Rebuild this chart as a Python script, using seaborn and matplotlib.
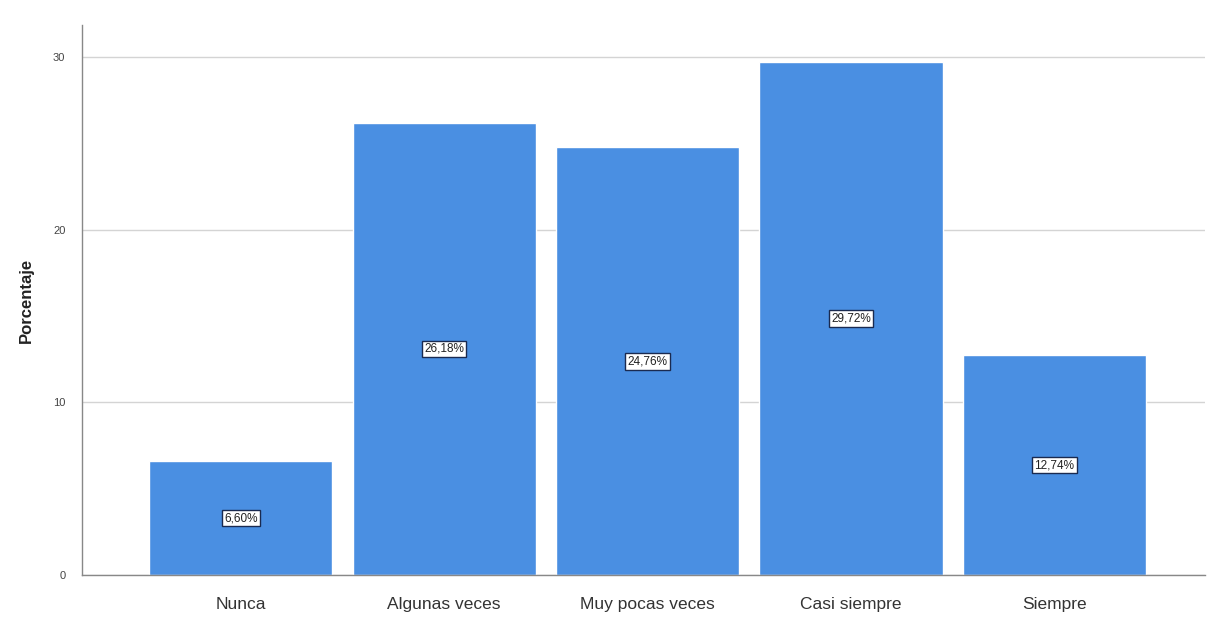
import matplotlib
matplotlib.use("Agg")
import matplotlib.pyplot as plt
import seaborn as sns
import pandas as pd

# Data
categories = ["Nunca", "Algunas veces", "Muy pocas veces", "Casi siempre", "Siempre"]
percentages = [6.60, 26.18, 24.76, 29.72, 12.74]
y_ticks = [0, 10, 20, 30]

sns.set_theme(style="white")
plt.rcParams["font.family"] = ["Liberation Sans", "DejaVu Sans"]

df = pd.DataFrame({"categoria": categories, "porcentaje": percentages})

fig = plt.figure(figsize=(12.11, 6.25), dpi=100)
ax = fig.add_axes([0.0677, 0.08, 0.9273, 0.88])

sns.barplot(data=df, x="categoria", y="porcentaje", color="#4A8FE2",
            saturation=1, width=0.9, ax=ax)

for i, v in enumerate(percentages):
    ax.text(i, v / 2, f"{v:.2f}%".replace(".", ","), ha="center", va="center",
            fontsize=8.5, color="#222222",
            bbox=dict(boxstyle="square,pad=0.2", facecolor="white",
                      edgecolor="#1a2a50", linewidth=1))

ax.set_xlim(-0.78, 4.74)
ax.set_ylim(0, 31.85)
ax.set_yticks(y_ticks)
ax.set_yticklabels([str(t) for t in y_ticks], fontsize=8, color="#444444")
ax.tick_params(axis="x", labelsize=12.5, colors="#333333", pad=10)
ax.tick_params(axis="y", pad=6)
ax.set_xlabel("")
ax.set_ylabel("Porcentaje", fontsize=12, fontweight="bold", color="#222222", labelpad=14)

ax.yaxis.grid(True, color="#d4d4d4", linewidth=1)
ax.set_axisbelow(True)
for s in ["top", "right"]:
    ax.spines[s].set_visible(False)
for s in ["left", "bottom"]:
    ax.spines[s].set_color("#888888")
    ax.spines[s].set_linewidth(1)

fig.savefig("out.png", dpi=100)
